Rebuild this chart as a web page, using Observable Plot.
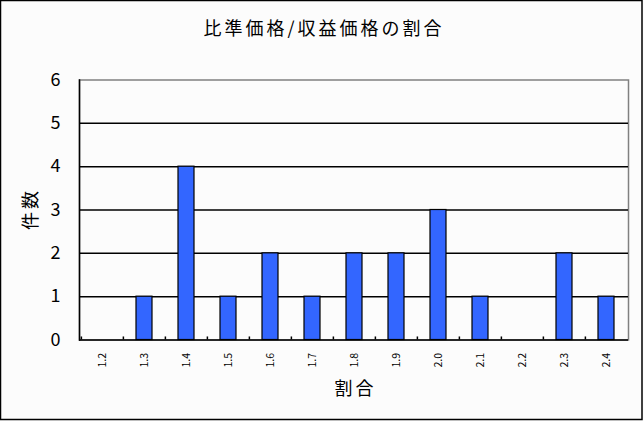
<!DOCTYPE html>
<html>
<head>
<meta charset="utf-8">
<script src="https://cdn.jsdelivr.net/npm/d3@7"></script>
<script src="https://cdn.jsdelivr.net/npm/@observablehq/plot@0.6"></script>
<style>
  html, body { margin: 0; padding: 0; background: #fcfcfc; }
  #chart { position: relative; width: 644px; height: 421px; }
  svg { display: block; }
</style>
</head>
<body>
<div id="chart"></div>
<script>
const categories = ["1.2","1.3","1.4","1.5","1.6","1.7","1.8","1.9","2.0","2.1","2.2","2.3","2.4"];
const counts = [0, 1, 4, 1, 2, 1, 2, 2, 3, 1, 0, 2, 1];
const yTicks = [0, 1, 2, 3, 4, 5, 6];
const gridValues = [1, 2, 3, 4, 5];
const title = "比準価格/収益価格の割合";
const xLabel = "割合";
const yLabel = "件数";

const data = categories.map((c, i) => ({cat: c, n: counts[i]}));
const font = "'Noto Sans CJK JP', 'Liberation Sans', sans-serif";

const W = 644, H = 421;
const mL = 79, mR = 16, mT = 79.5, mB = 81.5;
const step = (W - mL - mR) / categories.length;

const plot = Plot.plot({
  width: W,
  height: H,
  marginLeft: mL,
  marginRight: mR,
  marginTop: mT,
  marginBottom: mB,
  style: {background: "#fcfcfc", fontFamily: font, color: "black", overflow: "visible"},
  x: {type: "band", domain: categories, paddingInner: 0.62, paddingOuter: 0.31, label: null},
  y: {domain: [0, 6], ticks: yTicks, label: null},
  marks: [
    Plot.frame({stroke: "#808080", strokeWidth: 1.5}),
    Plot.ruleY(gridValues, {stroke: "black", strokeWidth: 1.5}),
    Plot.barY(data, {x: "cat", y: "n", fill: "#3366ff", stroke: "black", strokeWidth: 1.2}),
    Plot.ruleX(categories, {x: d => d, dx: -step / 2, y1: 0, y2: 0.07, stroke: "black", strokeWidth: 1.5}),
    Plot.ruleY([0], {stroke: "black", strokeWidth: 1.5}),
    Plot.frame({anchor: "left", stroke: "black", strokeWidth: 1.5}),
    Plot.axisY({ticks: yTicks, tickFormat: "d", tickSize: 0, tickPadding: 19, fontSize: 18, label: null}),
    Plot.axisX({tickSize: 0, tickPadding: 13, tickRotate: -90, fontSize: 10.5, label: null}),
    Plot.text([title], {frameAnchor: "top", lineAnchor: "middle", dx: -30, dy: -50.5, fontSize: 18, fontFamily: font, className: "spaced"}),
    Plot.text([xLabel], {frameAnchor: "bottom", lineAnchor: "middle", dx: 1.5, dy: 49.5, fontSize: 18, fontFamily: font, className: "spaced"}),
    Plot.text([yLabel], {frameAnchor: "left", textAnchor: "middle", lineAnchor: "middle", dx: -48, dy: -1, rotate: -90, fontSize: 18, fontFamily: font, className: "spaced"})
  ]
});

document.getElementById("chart").appendChild(plot);
d3.select(plot).selectAll(".spaced text").attr("letter-spacing", "3px");
d3.select(plot).append("rect")
  .attr("x", 0.5).attr("y", 0.5)
  .attr("width", 641.5).attr("height", 419)
  .attr("fill", "none").attr("stroke", "black").attr("stroke-width", 1.5);
</script>
</body>
</html>
